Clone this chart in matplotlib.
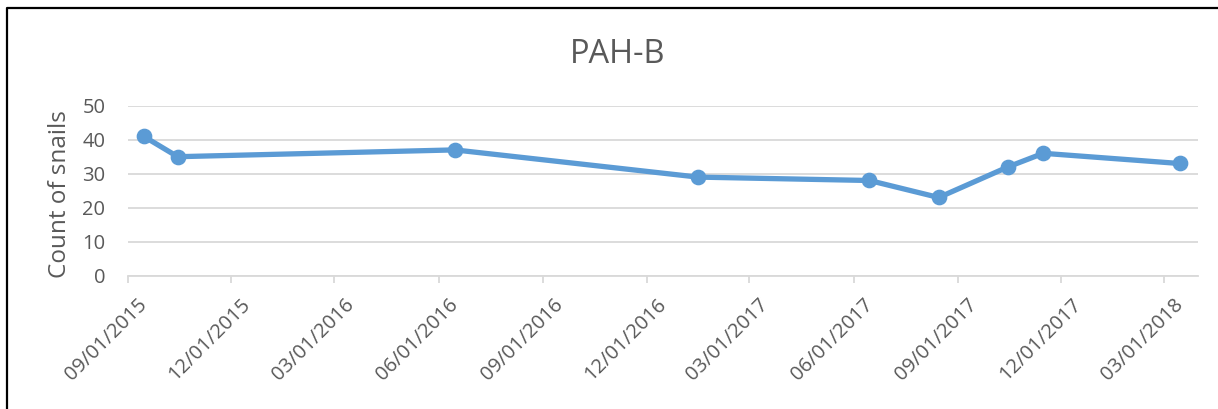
import matplotlib
matplotlib.use("Agg")
import matplotlib.pyplot as plt
import matplotlib.dates as mdates
import matplotlib.transforms as mtransforms
from matplotlib.lines import Line2D
import numpy as np

# Survey data
sample_dates = ["2015-09-15", "2015-10-15", "2016-06-15", "2017-01-15",
                "2017-06-15", "2017-08-15", "2017-10-15", "2017-11-15",
                "2018-03-15"]
snail_counts = [41, 35, 37, 29, 28, 23, 32, 36, 33]
tick_dates = ["2015-09-01", "2015-12-01", "2016-03-01", "2016-06-01",
              "2016-09-01", "2016-12-01", "2017-03-01", "2017-06-01",
              "2017-09-01", "2017-12-01", "2018-03-01"]

W, H, DPI = 1218, 409, 100
TEXT = "#595959"
LINE = "#5B9BD5"
GRID = "#D9D9D9"

plt.rcParams["font.family"] = ["Open Sans", "DejaVu Sans"]

fig = plt.figure(figsize=(W / DPI, H / DPI), dpi=DPI)
left, right = 127.7 / W, 1197.7 / W
top, bottom = 1 - 105.7 / H, 1 - 275.7 / H
ax = fig.add_axes([left, bottom, right - left, top - bottom])

x = np.array(sample_dates, dtype="datetime64[D]")
ax.plot(x, snail_counts, color=LINE, lw=3.8, marker="o", ms=10.3,
        solid_capstyle="round", solid_joinstyle="round", zorder=3)

ax.set_xlim(np.datetime64("2015-09-01"), np.datetime64("2018-03-31"))
ax.set_ylim(0, 50)
ax.set_yticks(range(0, 51, 10))
ax.yaxis.grid(True, color=GRID, lw=1.3)
ax.set_axisbelow(True)

ticks = np.array(tick_dates, dtype="datetime64[D]")
ax.set_xticks(ticks)
ax.xaxis.set_major_formatter(mdates.DateFormatter("%m/%d/%Y"))

for s in ["top", "right", "left"]:
    ax.spines[s].set_visible(False)
ax.spines["bottom"].set_color(GRID)
ax.spines["bottom"].set_linewidth(1.3)
ax.tick_params(axis="x", colors=TEXT, labelsize=14.5, length=5, width=1.3,
               color=GRID, pad=14)
ax.tick_params(axis="y", colors=TEXT, labelsize=14.5, length=0, pad=16)

# Rotated date labels, anchored at their right end and nudged right
shift = mtransforms.ScaledTranslation(16.5 / DPI, 0, fig.dpi_scale_trans)
for lbl in ax.get_xticklabels():
    lbl.set_rotation(45)
    lbl.set_ha("right")
    lbl.set_va("center")
    lbl.set_rotation_mode("anchor")
    lbl.set_transform(lbl.get_transform() + shift)

ax.set_ylabel("Count of snails", fontsize=17.5, color=TEXT)
ax.yaxis.set_label_coords(-0.052, 0.483)

fig.text(618 / W, 1 - 63.3 / H, "PAH-B", fontsize=23.5, color=TEXT,
         ha="center", va="baseline")

# Frame edges along the left and top of the figure
fig.add_artist(Line2D([6.5 / W, 6.5 / W, 1.0], [0.0, 1 - 7.5 / H, 1 - 7.5 / H],
                      transform=fig.transFigure, color="black", lw=1.6))

fig.savefig("out.png", dpi=DPI)
